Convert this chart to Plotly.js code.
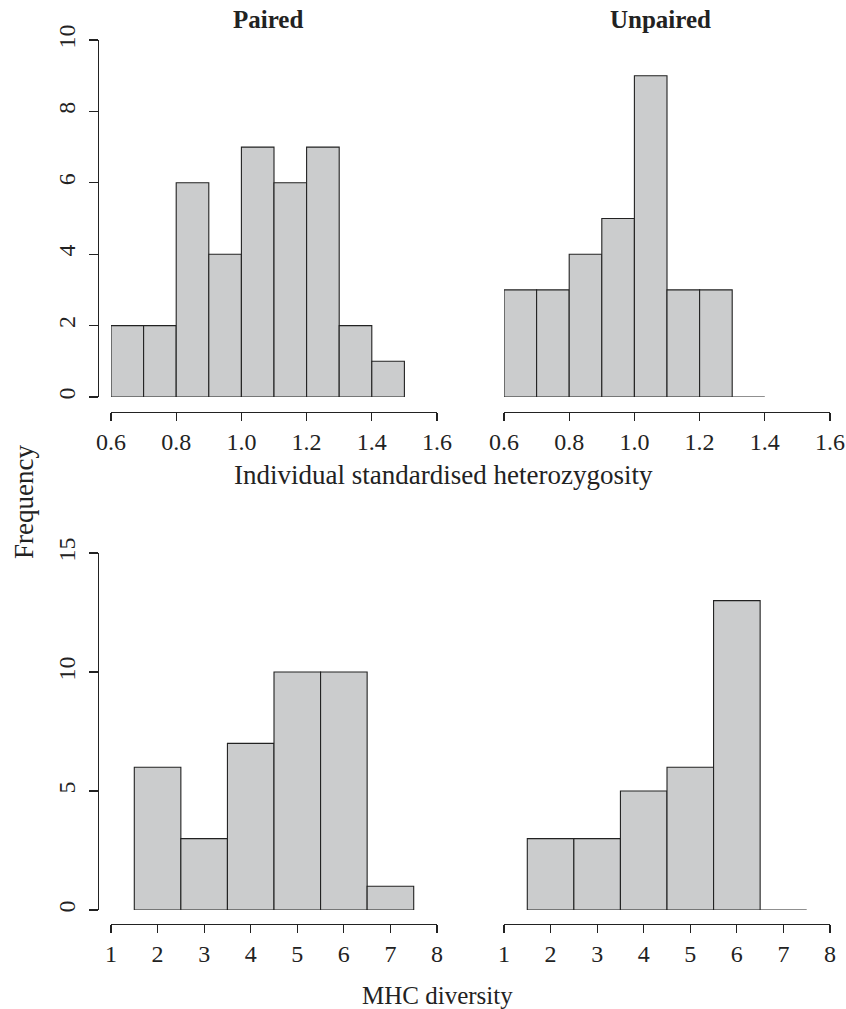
<!DOCTYPE html>
<html>
<head>
<meta charset="utf-8">
<script src="https://cdn.plot.ly/plotly-3.0.1.min.js"></script>
<style>html,body{margin:0;padding:0;background:#fff;}#chart{width:846px;height:1009px;}</style>
</head>
<body>
<div id="chart"></div>
<script>
// ---- data ----
const ishBinMids = [0.65, 0.75, 0.85, 0.95, 1.05, 1.15, 1.25, 1.35, 1.45];
const ishPaired = [2, 2, 6, 4, 7, 6, 7, 2, 1];
const ishUnpairedMids = [0.65, 0.75, 0.85, 0.95, 1.05, 1.15, 1.25, 1.35];
const ishUnpaired = [3, 3, 4, 5, 9, 3, 3, 0];
const mhcBinMids = [2, 3, 4, 5, 6, 7];
const mhcPaired = [6, 3, 7, 10, 10, 1];
const mhcUnpaired = [3, 3, 5, 6, 13, 0];
const ishTicks = [0.6, 0.8, 1.0, 1.2, 1.4, 1.6];
const ishTickText = ['0.6', '0.8', '1.0', '1.2', '1.4', '1.6'];
const mhcTicks = [1, 2, 3, 4, 5, 6, 7, 8];
const ishYTicks = [0, 2, 4, 6, 8, 10];
const mhcYTicks = [0, 5, 10, 15];
const panelTitles = ['Paired', 'Unpaired'];

// ---- layout helpers ----
const W = 846, H = 1009;
const px = v => v / W;
const py = v => 1 - v / H;
const FONT = 'Liberation Serif, Times New Roman, serif';
const INK = '#222';
const FILL = '#cbcccd';

function barTrace(x, y, w, xa, ya) {
  return {
    type: 'bar', x: x, y: y, width: w, xaxis: xa, yaxis: ya,
    marker: {color: FILL, line: {color: INK, width: 1.1}},
    hoverinfo: 'skip', showlegend: false
  };
}

const traces = [
  barTrace(ishBinMids, ishPaired, 0.1, 'x', 'y'),
  barTrace(ishUnpairedMids, ishUnpaired, 0.1, 'x2', 'y2'),
  barTrace(mhcBinMids, mhcPaired, 1, 'x3', 'y3'),
  barTrace(mhcBinMids, mhcUnpaired, 1, 'x4', 'y4')
];

function xAxis(range, domL, domR, pos, ticks, text) {
  const a = {
    range: range, domain: [px(domL), px(domR)], anchor: 'free', position: py(pos),
    showline: true, linecolor: INK, linewidth: 1.1,
    ticks: 'outside', ticklen: 8, tickwidth: 1.1, tickcolor: INK,
    tickmode: 'array', tickvals: ticks,
    showgrid: false, zeroline: false, fixedrange: true,
    tickfont: {family: FONT, size: 24, color: INK},
    ticklabelstandoff: 0
  };
  if (text) a.ticktext = text;
  return a;
}
function yAxis(range, top, bottom, pos, ticks, visible) {
  return {
    range: range, domain: [py(bottom), py(top)], anchor: 'free', position: px(pos),
    visible: visible,
    showline: true, linecolor: INK, linewidth: 1.1,
    ticks: 'outside', ticklen: 9, tickwidth: 1.1, tickcolor: INK,
    tickmode: 'array', tickvals: ticks, tickangle: -90,
    showgrid: false, zeroline: false, fixedrange: true,
    tickfont: {family: FONT, size: 24, color: INK},
    ticklabelstandoff: 4
  };
}

const layout = {
  width: W, height: H,
  margin: {l: 0, r: 0, t: 0, b: 0},
  paper_bgcolor: '#fff', plot_bgcolor: 'rgba(0,0,0,0)',
  bargap: 0,
  xaxis: xAxis([0.6, 1.6], 111, 437, 412, ishTicks, ishTickText),
  xaxis2: xAxis([0.6, 1.6], 504, 830, 412, ishTicks, ishTickText),
  xaxis3: xAxis([1, 8], 111, 437, 924, mhcTicks),
  xaxis4: xAxis([1, 8], 504, 830, 924, mhcTicks),
  yaxis: yAxis([0, 10], 40, 397, 98, ishYTicks, true),
  yaxis2: yAxis([0, 10], 40, 397, 491, ishYTicks, false),
  yaxis3: yAxis([0, 15], 553, 910, 98, mhcYTicks, true),
  yaxis4: yAxis([0, 15], 553, 910, 491, mhcYTicks, false),
  annotations: [
    {text: '<b>' + panelTitles[0] + '</b>', x: px(268), y: py(20), xref: 'paper', yref: 'paper',
     showarrow: false, font: {family: FONT, size: 25, color: INK}, xanchor: 'center', yanchor: 'middle'},
    {text: '<b>' + panelTitles[1] + '</b>', x: px(660), y: py(20), xref: 'paper', yref: 'paper',
     showarrow: false, font: {family: FONT, size: 25, color: INK}, xanchor: 'center', yanchor: 'middle'},
    {text: 'Individual standardised heterozygosity', x: px(443), y: py(475), xref: 'paper', yref: 'paper',
     showarrow: false, font: {family: FONT, size: 27, color: INK}, xanchor: 'center', yanchor: 'middle'},
    {text: 'MHC diversity', x: px(437), y: py(995), xref: 'paper', yref: 'paper',
     showarrow: false, font: {family: FONT, size: 25, color: INK}, xanchor: 'center', yanchor: 'middle'},
    {text: 'Frequency', x: px(24), y: py(502), xref: 'paper', yref: 'paper', textangle: -90,
     showarrow: false, font: {family: FONT, size: 27, color: INK}, xanchor: 'center', yanchor: 'middle'}
  ]
};

Plotly.newPlot('chart', traces, layout, {staticPlot: true, displayModeBar: false});
</script>
</body>
</html>
